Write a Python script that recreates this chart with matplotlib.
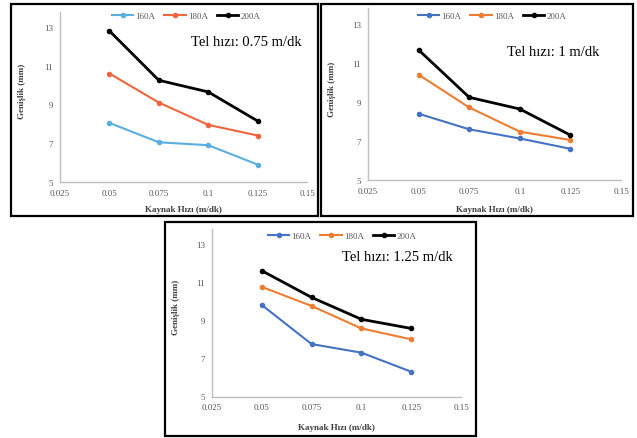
import matplotlib
matplotlib.use("Agg")
import matplotlib.pyplot as plt
from matplotlib.patches import Rectangle

plt.rcParams['font.family'] = ['Liberation Serif', 'DejaVu Serif']

W, H = 637, 439

speeds = [0.05, 0.075, 0.1, 0.125]
series_names = ["160A", "180A", "200A"]

# Tel hızı 0.75 m/dk
p1_160 = [8.05, 7.05, 6.9, 5.9]
p1_180 = [10.6, 9.1, 7.95, 7.4]
p1_200 = [12.8, 10.25, 9.65, 8.15]
# Tel hızı 1 m/dk
p2_160 = [8.4, 7.6, 7.13, 6.6]
p2_180 = [10.4, 8.72, 7.48, 7.05]
p2_200 = [11.67, 9.24, 8.64, 7.3]
# Tel hızı 1.25 m/dk
p3_160 = [9.8, 7.75, 7.3, 6.3]
p3_180 = [10.75, 9.75, 8.57, 8.0]
p3_200 = [11.6, 10.2, 9.05, 8.57]

titles = ["Tel hızı: 0.75 m/dk", "Tel hızı: 1 m/dk", "Tel hızı: 1.25 m/dk"]
xticks = [0.025, 0.05, 0.075, 0.1, 0.125, 0.15]
xticklabels = ["0.025", "0.05", "0.075", "0.1", "0.125", "0.15"]
yticks = [5, 7, 9, 11, 13]

fig = plt.figure(figsize=(W / 100, H / 100), dpi=100)

def fx(px):
    return px / W

def fy(py):
    return 1 - py / H

panels = [
    dict(border=(11, 5, 318, 217), ax=(60, 307, 183, 19.375), leg=(186, 17), txt=(246, 42),
         data=[p1_160, p1_180, p1_200], colors=["#5AAFE0", "#F0653E", "#000000"], ylab=22, xlab=210),
    dict(border=(321, 5, 633, 217), ax=(368, 621, 181, 19.5), leg=(492, 17), txt=(553, 52),
         data=[p2_160, p2_180, p2_200], colors=["#4472C4", "#ED7D31", "#000000"], ylab=332, xlab=210),
    dict(border=(165, 223, 476, 437), ax=(212, 461, 397.5, 19.06), leg=(342, 237), txt=(397, 258),
         data=[p3_160, p3_180, p3_200], colors=["#4472C4", "#ED7D31", "#000000"], ylab=176, xlab=428),
]

ytop = 13.8
for i, p in enumerate(panels):
    bx0, by0, bx1, by1 = p["border"]
    fig.patches.append(Rectangle((fx(bx0), fy(by1)), fx(bx1 - bx0), (by1 - by0) / H,
                                 transform=fig.transFigure, fill=False,
                                 edgecolor="black", linewidth=1.6, zorder=10))
    ax0, ax1, y5, unit = p["ax"]
    ytop_px = y5 - (ytop - 5) * unit
    ax = fig.add_axes([fx(ax0), fy(y5), fx(ax1 - ax0), (y5 - ytop_px) / H])
    ax.set_facecolor("none")
    for name, vals, c in zip(series_names, p["data"], p["colors"]):
        lw = 2.0 if c == "#000000" else 1.5
        ax.plot(speeds, vals, color=c, linewidth=lw, marker="o", markersize=3.0, label=name)
    ax.set_xlim(0.025, 0.15)
    ax.set_ylim(5, ytop)
    ax.set_xticks(xticks)
    ax.set_xticklabels(xticklabels)
    ax.set_yticks(yticks)
    for s in ["top", "right"]:
        ax.spines[s].set_visible(False)
    for s in ["left", "bottom"]:
        ax.spines[s].set_color("#BFBFBF")
        ax.spines[s].set_linewidth(1.0)
    ax.tick_params(length=0, labelsize=6.5, labelcolor="#595959", pad=5)
    ax.legend(loc="center", bbox_to_anchor=(fx(p["leg"][0]), fy(p["leg"][1])),
              bbox_transform=fig.transFigure, ncol=3, frameon=False, fontsize=6.5,
              handlelength=2.4, columnspacing=1.0, handletextpad=0.2, labelcolor="#595959")
    fig.text(fx(p["txt"][0]), fy(p["txt"][1]), titles[i], fontsize=10.5, ha="center", va="center",
             color="black")
    fig.text(fx(p["ylab"]), fy((y5 + ytop_px) / 2 - 6), "Genişlik (mm)", rotation=90, fontsize=6.5,
             fontweight="bold", color="#404040", ha="center", va="center")
    fig.text(fx((ax0 + ax1) / 2), fy(p["xlab"]), "Kaynak Hızı (m/dk)", fontsize=6.5,
             fontweight="bold", color="#404040", ha="center", va="center")

fig.savefig("out.png", dpi=100)
